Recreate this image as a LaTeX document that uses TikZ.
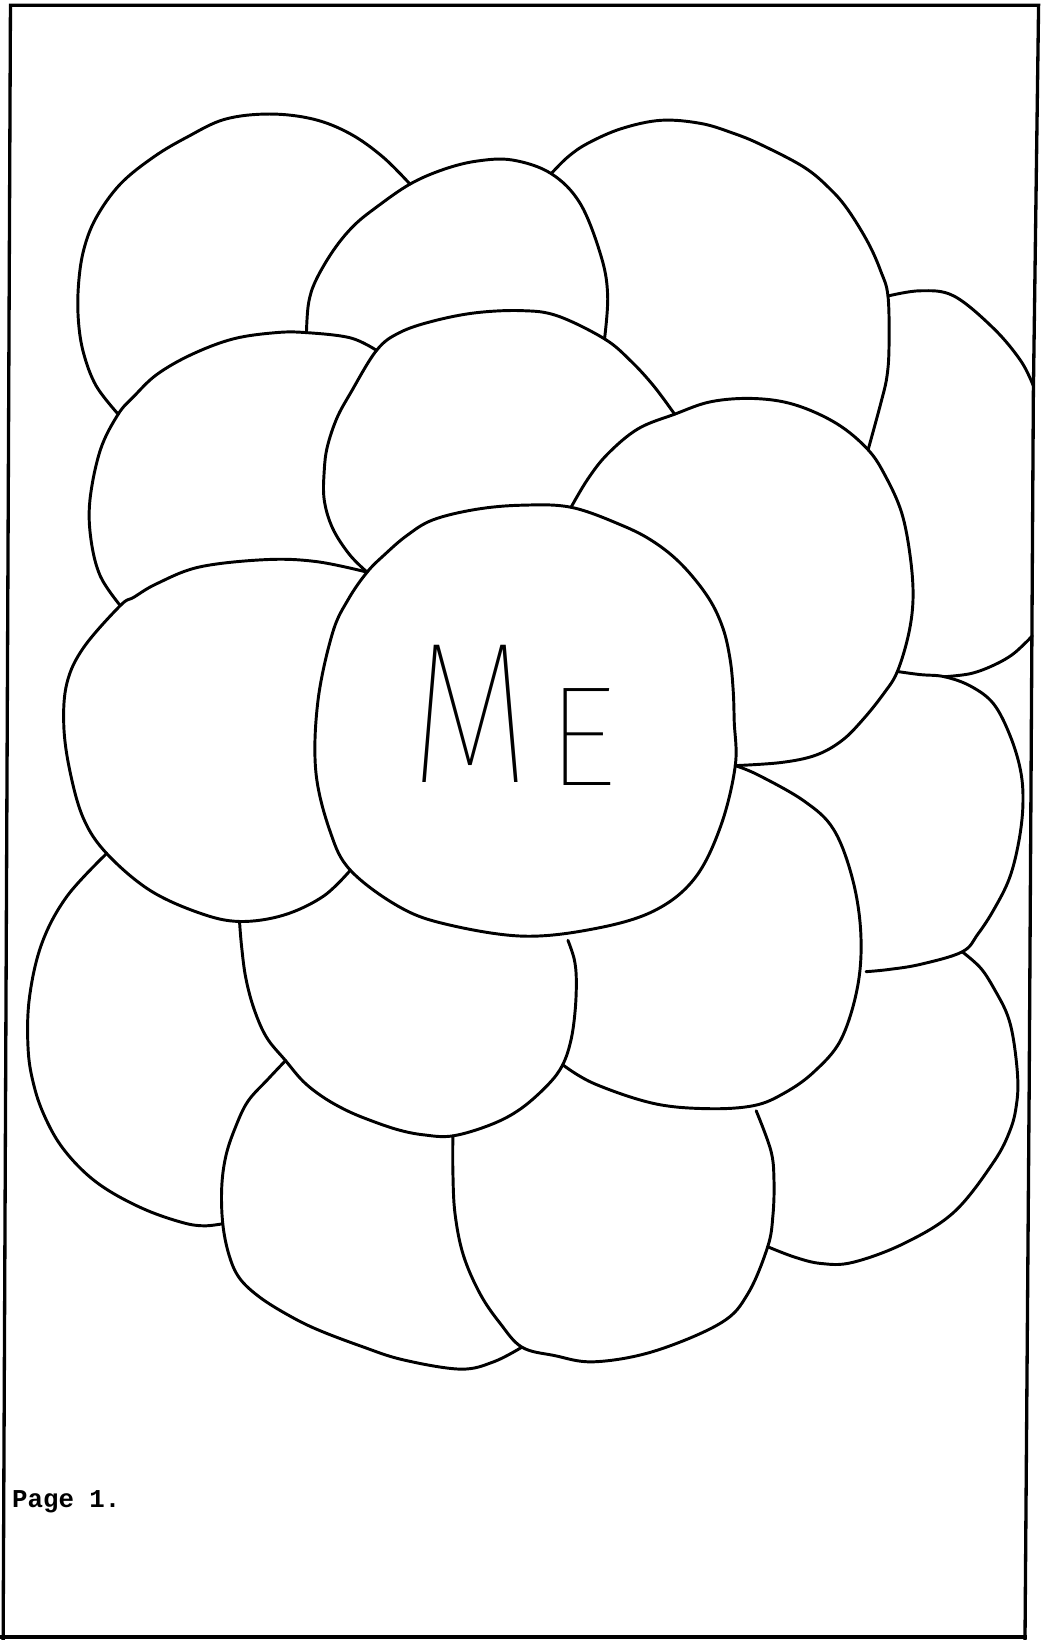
\documentclass[tikz,border=0pt]{standalone}
\usepackage{fontspec}
\IfFontExistsTF{Fira Sans Hair}{\newfontfamily\mefont{Fira Sans Hair}}{%
 \IfFontExistsTF{Fira Sans Thin}{\newfontfamily\mefont{Fira Sans Thin}}{%
  \IfFontExistsTF{Lato Hairline}{\newfontfamily\mefont{Lato Hairline}}{%
   \newfontfamily\mefont{Liberation Sans}}}}
\newfontfamily\pagefont{Liberation Mono}
\begin{document}
\begin{tikzpicture}[x=0.01cm,y=-0.01cm,
  blob/.style={line width=0.8pt,line join=round,line cap=round},
  frame/.style={line width=0.9pt,line join=miter}]
\useasboundingbox (0,0) rectangle (997,1568);
\fill[white] (0,0) rectangle (997,1568);

% junction points
\coordinate (jAB) at (392,176);
\coordinate (jAG) at (113,396);
\coordinate (jBG) at (293,318);
\coordinate (jBC) at (527,166);
\coordinate (jBH) at (578,324);
\coordinate (jGH) at (360,335);
\coordinate (jGI) at (115,579);
\coordinate (jHI) at (351,547);
\coordinate (jHE) at (645,396);
\coordinate (jCD) at (849,283);
\coordinate (jCE) at (830,430);
\coordinate (jDB) at (988,369);
\coordinate (jDB2) at (987,608);
\coordinate (jDF) at (903,647);
\coordinate (jEF) at (858,642);
\coordinate (jEM) at (546,485);
\coordinate (jEJ) at (703,732);
\coordinate (jFO) at (920,910);
\coordinate (jIL) at (102,816);
\coordinate (jIK) at (229,881);
\coordinate (jIM) at (335,832);
\coordinate (jKM) at (273,1014);
\coordinate (jLM) at (213,1170);
\coordinate (jKN) at (433,1086);
\coordinate (jMN) at (499,1288);
\coordinate (jKJ) at (538,1018);
\coordinate (jNO) at (734,1192);

% frame
\draw[frame] (3,1568) -- (10,5) -- (993,5) -- (988,376) -- (984,1040) -- (980,1568);
\draw[frame] (0,1565) -- (982,1565);

\tikzset{every plot/.style={smooth,tension=0.6}}
% A
\draw[blob] plot coordinates {(jAB) (366,150) (335,128) (300,114) (258,109) (215,114) (179,131) (147,150) (115,176) (92,208) (80,239) (75,273) (75,307) (80,338) (92,369) (jAG)};
% B
\draw[blob] plot coordinates {(jBG) (295,290) (302,268) (319,239) (338,216) (360,198) (jAB) (424,162) (456,154) (490,153) (jBC) (555,195) (575,246) (581,283) (jBH)};
% C
\draw[blob] plot coordinates {(jBC) (543,150) (562,137) (594,123) (632,115) (670,118) (700,127) (727,138) (769,160) (794,181) (811,201) (830,232) (842,259) (jCD) (850,331) (848,360) (842,386) (jCE)};
% D
\draw[blob] plot coordinates {(jCD) (880,278) (912,283) (950,314) (976,345) (jDB)};
\draw[blob] plot coordinates {(jDB2) (969,625) (950,636) (928,644) (jDF)};
% E
\draw[blob] plot coordinates {(jEM) (562,458) (581,434) (610,410) (jHE) (680,384) (721,381) (760,387) (800,405) (jCE) (847,456) (862,490) (870,530) (873,570) (869,605) (jEF) (845,663) (825,688) (805,708) (780,722) (747,729) (jEJ)};
% F
\draw[blob] plot coordinates {(jEF) (880,645) (jDF) (928,656) (950,673) (966,704) (976,738) (978,770) (974,805) (965,840) (950,870) (935,893) (jFO) (880,922) (849,927) (828,929)};
% G
\draw[blob] plot coordinates {(jGH) (335,323) (jBG) (264,318) (223,324) (183,339) (150,358) (128,379) (jAG) (96,430) (86,478) (87,516) (96,551) (jGI)};
% H
\draw[blob] plot coordinates {(jHI) (334,530) (318,505) (310,478) (310,450) (313,427) (322,400) (335,376) (jGH) (382,318) (414,307) (455,299) (499,297) (533,302) (jBH) (603,345) (625,369) (jHE)};
% I
\draw[blob] plot coordinates {(jHI) (303,537) (255,535) (191,542) (150,558) (128,571) (jGI) (80,619) (64,653) (61,694) (67,738) (80,783) (jIL) (143,851) (191,873) (jIK) (271,875) (309,857) (jIM)};
% ME blob
\draw[blob] plot[smooth cycle] coordinates {(jHI) (368,530) (389,512) (414,497) (455,487) (499,483) (jEM) (594,502) (625,518) (652,540) (677,571) (691,600) (698,630) (701,660) (702,690) (jEJ) (689,790) (664,840) (625,871) (568,888) (499,895) (424,883) (380,866) (jIM) (316,796) (302,738) (304,670) (318,605) (333,573)};
% J
\draw[blob] plot coordinates {(jEJ) (725,741) (769,766) (797,793) (815,840) (823,892) (820,943) (804,994) (778,1025) (750,1045) (721,1057) (677,1060) (625,1055) (568,1036) (jKJ)};
% K
\draw[blob] plot coordinates {(jIK) (231,905) (235,935) (243,965) (255,992) (jKM) (290,1034) (309,1049) (330,1061) (351,1070) (380,1080) (405,1085) (jKN) (470,1075) (498,1060) (524,1037) (jKJ) (546,994) (550,965) (551,936) (549,917) (543,899)};
% L
\draw[blob] plot coordinates {(jIL) (64,857) (40,902) (28,955) (27,1005) (33,1040) (43,1068) (58,1095) (80,1120) (105,1139) (140,1157) (175,1169) (195,1172) (jLM)};
% M
\draw[blob] plot coordinates {(jKM) (256,1032) (237,1053) (225,1078) (216,1105) (212,1135) (jLM) (219,1200) (229,1222) (248,1240) (275,1257) (303,1271) (345,1287) (385,1300) (440,1309) (472,1302) (jMN)};
% N
\draw[blob] plot coordinates {(jKN) (433,1120) (435,1160) (443,1200) (459,1237) (478,1265) (jMN) (530,1296) (568,1302) (625,1292) (689,1265) (715,1237) (jNO) (739,1162) (740,1128) (737,1100) (723,1062)};
% O
\draw[blob] plot coordinates {(jFO) (938,926) (952,948) (963,970) (969,994) (973,1030) (972,1055) (966,1080) (950,1111) (912,1159) (864,1189) (815,1207) (785,1208) (760,1202) (jNO)};

% text
\node[inner sep=0pt, anchor=base, xscale=0.78, font=\mefont\fontsize{54.8}{60}\selectfont] (meM) at (450,748) {M};
\node[inner sep=0pt, anchor=base, font=\mefont\fontsize{38.7}{44}\selectfont] (meE) at (556,751) {E};
\node[inner sep=0pt, anchor=base west, font=\pagefont\bfseries\fontsize{7}{8}\selectfont] (page) at (11,1441) {Page 1.};
\end{tikzpicture}
\end{document}
